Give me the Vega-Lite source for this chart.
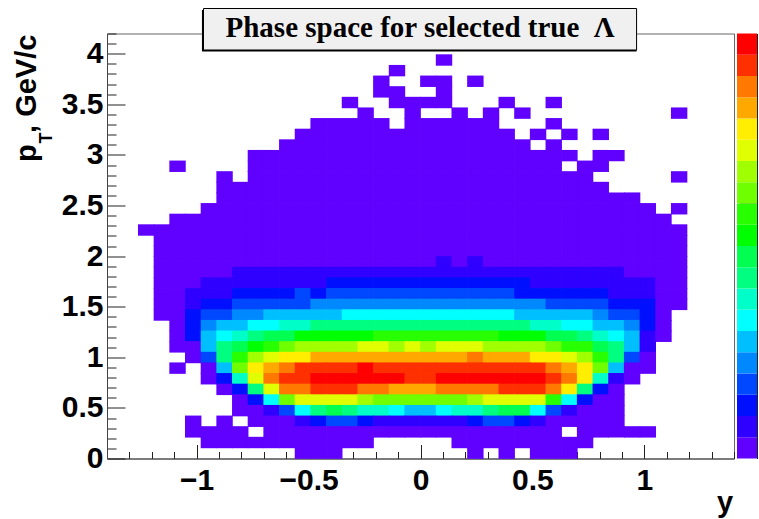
{"$schema":"https://vega.github.io/schema/vega-lite/v6.json","background":"white","padding":{"left":12,"top":7.5,"right":0,"bottom":0},"spacing":2,"hconcat":[{"width":627,"height":425,"view":{"stroke":"#666666","strokeWidth":1,"fill":null},"encoding":{"x":{"field":"y","type":"quantitative","scale":{"domain":[-1.4,1.4],"nice":false,"zero":false},"axis":{"title":null,"values":[-1.4,-1.3,-1.2,-1.1,-1,-0.9,-0.8,-0.7,-0.6,-0.5,-0.4,-0.3,-0.2,-0.1,0,0.1,0.2,0.3,0.4,0.5,0.6,0.7,0.8,0.9,1,1.1,1.2,1.3,1.4],"labelExpr":"abs(datum.value*2-round(datum.value*2))<0.01 ? format(datum.value,'.1~f') : ''","tickSize":{"condition":{"test":"abs(datum.value*2-round(datum.value*2))<0.01","value":-14},"value":-7},"tickColor":"#222222","domainColor":"#444444","labelFont":"Liberation Sans","labelFontWeight":"bold","labelFontSize":30,"labelColor":"black","labelPadding":21,"labelFlush":false,"labelOverlap":false,"grid":false}},"y":{"field":"pT","type":"quantitative","scale":{"domain":[0,4.2],"nice":false,"zero":false},"axis":{"title":null,"values":[0,0.1,0.2,0.3,0.4,0.5,0.6,0.7,0.8,0.9,1,1.1,1.2,1.3,1.4,1.5,1.6,1.7,1.8,1.9,2,2.1,2.2,2.3,2.4,2.5,2.6,2.7,2.8,2.9,3,3.1,3.2,3.3,3.4,3.5,3.6,3.7,3.8,3.9,4,4.1,4.2],"labelExpr":"abs(datum.value*2-round(datum.value*2))<0.01 ? format(datum.value,'.1~f') : ''","tickSize":{"condition":{"test":"abs(datum.value*2-round(datum.value*2))<0.01","value":-18},"value":-9},"tickColor":"#222222","domainColor":"#444444","labelFont":"Liberation Sans","labelFontWeight":"bold","labelFontSize":30,"labelColor":"black","labelPadding":22,"labelFlush":false,"labelOverlap":false,"grid":false}}},"layer":[{"data":{"values":[{"y":0.105,"pT":3.938,"n":21},{"y":-0.105,"pT":3.833,"n":21},{"y":-0.175,"pT":3.728,"n":21},{"y":0.035,"pT":3.728,"n":21},{"y":0.105,"pT":3.728,"n":21},{"y":0.245,"pT":3.728,"n":21},{"y":-0.175,"pT":3.623,"n":21},{"y":-0.105,"pT":3.623,"n":21},{"y":0.105,"pT":3.623,"n":21},{"y":-0.315,"pT":3.518,"n":21},{"y":-0.105,"pT":3.518,"n":21},{"y":-0.035,"pT":3.518,"n":21},{"y":0.035,"pT":3.518,"n":21},{"y":0.105,"pT":3.518,"n":21},{"y":0.385,"pT":3.518,"n":21},{"y":0.595,"pT":3.518,"n":21},{"y":-0.245,"pT":3.413,"n":21},{"y":-0.035,"pT":3.413,"n":21},{"y":0.175,"pT":3.413,"n":21},{"y":0.315,"pT":3.413,"n":21},{"y":0.455,"pT":3.413,"n":21},{"y":1.155,"pT":3.413,"n":21},{"y":-0.455,"pT":3.308,"n":21},{"y":-0.385,"pT":3.308,"n":21},{"y":-0.315,"pT":3.308,"n":21},{"y":-0.245,"pT":3.308,"n":21},{"y":-0.175,"pT":3.308,"n":21},{"y":-0.035,"pT":3.308,"n":21},{"y":0.035,"pT":3.308,"n":21},{"y":0.105,"pT":3.308,"n":21},{"y":0.175,"pT":3.308,"n":21},{"y":0.245,"pT":3.308,"n":21},{"y":0.315,"pT":3.308,"n":21},{"y":0.595,"pT":3.308,"n":21},{"y":-0.525,"pT":3.203,"n":21},{"y":-0.455,"pT":3.203,"n":21},{"y":-0.385,"pT":3.203,"n":21},{"y":-0.315,"pT":3.203,"n":21},{"y":-0.245,"pT":3.203,"n":21},{"y":-0.175,"pT":3.203,"n":21},{"y":-0.105,"pT":3.203,"n":21},{"y":-0.035,"pT":3.203,"n":21},{"y":0.035,"pT":3.203,"n":21},{"y":0.105,"pT":3.203,"n":21},{"y":0.175,"pT":3.203,"n":21},{"y":0.245,"pT":3.203,"n":21},{"y":0.315,"pT":3.203,"n":21},{"y":0.385,"pT":3.203,"n":21},{"y":0.525,"pT":3.203,"n":21},{"y":0.665,"pT":3.203,"n":21},{"y":0.805,"pT":3.203,"n":21},{"y":-0.595,"pT":3.098,"n":21},{"y":-0.525,"pT":3.098,"n":21},{"y":-0.455,"pT":3.098,"n":21},{"y":-0.385,"pT":3.098,"n":21},{"y":-0.315,"pT":3.098,"n":21},{"y":-0.245,"pT":3.098,"n":21},{"y":-0.175,"pT":3.098,"n":21},{"y":-0.105,"pT":3.098,"n":21},{"y":-0.035,"pT":3.098,"n":21},{"y":0.035,"pT":3.098,"n":21},{"y":0.105,"pT":3.098,"n":21},{"y":0.175,"pT":3.098,"n":21},{"y":0.245,"pT":3.098,"n":21},{"y":0.315,"pT":3.098,"n":21},{"y":0.385,"pT":3.098,"n":21},{"y":0.455,"pT":3.098,"n":21},{"y":0.595,"pT":3.098,"n":21},{"y":-0.735,"pT":2.993,"n":21},{"y":-0.665,"pT":2.993,"n":21},{"y":-0.595,"pT":2.993,"n":21},{"y":-0.525,"pT":2.993,"n":21},{"y":-0.455,"pT":2.993,"n":21},{"y":-0.385,"pT":2.993,"n":21},{"y":-0.315,"pT":2.993,"n":21},{"y":-0.245,"pT":2.993,"n":21},{"y":-0.175,"pT":2.993,"n":21},{"y":-0.105,"pT":2.993,"n":21},{"y":-0.035,"pT":2.993,"n":21},{"y":0.035,"pT":2.993,"n":21},{"y":0.105,"pT":2.993,"n":21},{"y":0.175,"pT":2.993,"n":21},{"y":0.245,"pT":2.993,"n":21},{"y":0.315,"pT":2.993,"n":21},{"y":0.385,"pT":2.993,"n":21},{"y":0.455,"pT":2.993,"n":21},{"y":0.525,"pT":2.993,"n":21},{"y":0.595,"pT":2.993,"n":21},{"y":0.665,"pT":2.993,"n":21},{"y":0.805,"pT":2.993,"n":21},{"y":0.875,"pT":2.993,"n":21},{"y":-1.085,"pT":2.888,"n":21},{"y":-0.735,"pT":2.888,"n":21},{"y":-0.665,"pT":2.888,"n":21},{"y":-0.595,"pT":2.888,"n":21},{"y":-0.525,"pT":2.888,"n":21},{"y":-0.455,"pT":2.888,"n":21},{"y":-0.385,"pT":2.888,"n":21},{"y":-0.315,"pT":2.888,"n":21},{"y":-0.245,"pT":2.888,"n":21},{"y":-0.175,"pT":2.888,"n":21},{"y":-0.105,"pT":2.888,"n":21},{"y":-0.035,"pT":2.888,"n":21},{"y":0.035,"pT":2.888,"n":21},{"y":0.105,"pT":2.888,"n":21},{"y":0.175,"pT":2.888,"n":21},{"y":0.245,"pT":2.888,"n":21},{"y":0.315,"pT":2.888,"n":21},{"y":0.385,"pT":2.888,"n":21},{"y":0.455,"pT":2.888,"n":21},{"y":0.525,"pT":2.888,"n":21},{"y":0.595,"pT":2.888,"n":21},{"y":0.735,"pT":2.888,"n":21},{"y":0.805,"pT":2.888,"n":21},{"y":-0.875,"pT":2.783,"n":21},{"y":-0.735,"pT":2.783,"n":21},{"y":-0.665,"pT":2.783,"n":21},{"y":-0.595,"pT":2.783,"n":21},{"y":-0.525,"pT":2.783,"n":21},{"y":-0.455,"pT":2.783,"n":21},{"y":-0.385,"pT":2.783,"n":21},{"y":-0.315,"pT":2.783,"n":21},{"y":-0.245,"pT":2.783,"n":21},{"y":-0.175,"pT":2.783,"n":21},{"y":-0.105,"pT":2.783,"n":21},{"y":-0.035,"pT":2.783,"n":21},{"y":0.035,"pT":2.783,"n":21},{"y":0.105,"pT":2.783,"n":21},{"y":0.175,"pT":2.783,"n":21},{"y":0.245,"pT":2.783,"n":21},{"y":0.315,"pT":2.783,"n":21},{"y":0.385,"pT":2.783,"n":21},{"y":0.455,"pT":2.783,"n":21},{"y":0.525,"pT":2.783,"n":21},{"y":0.595,"pT":2.783,"n":21},{"y":0.665,"pT":2.783,"n":21},{"y":0.735,"pT":2.783,"n":21},{"y":1.155,"pT":2.783,"n":21},{"y":-0.875,"pT":2.678,"n":21},{"y":-0.805,"pT":2.678,"n":21},{"y":-0.735,"pT":2.678,"n":21},{"y":-0.665,"pT":2.678,"n":21},{"y":-0.595,"pT":2.678,"n":21},{"y":-0.525,"pT":2.678,"n":21},{"y":-0.455,"pT":2.678,"n":21},{"y":-0.385,"pT":2.678,"n":21},{"y":-0.315,"pT":2.678,"n":21},{"y":-0.245,"pT":2.678,"n":21},{"y":-0.175,"pT":2.678,"n":21},{"y":-0.105,"pT":2.678,"n":21},{"y":-0.035,"pT":2.678,"n":21},{"y":0.035,"pT":2.678,"n":21},{"y":0.105,"pT":2.678,"n":21},{"y":0.175,"pT":2.678,"n":21},{"y":0.245,"pT":2.678,"n":21},{"y":0.315,"pT":2.678,"n":21},{"y":0.385,"pT":2.678,"n":21},{"y":0.455,"pT":2.678,"n":21},{"y":0.525,"pT":2.678,"n":21},{"y":0.595,"pT":2.678,"n":21},{"y":0.665,"pT":2.678,"n":21},{"y":0.735,"pT":2.678,"n":21},{"y":0.805,"pT":2.678,"n":21},{"y":-0.875,"pT":2.573,"n":21},{"y":-0.805,"pT":2.573,"n":21},{"y":-0.735,"pT":2.573,"n":21},{"y":-0.665,"pT":2.573,"n":21},{"y":-0.595,"pT":2.573,"n":21},{"y":-0.525,"pT":2.573,"n":21},{"y":-0.455,"pT":2.573,"n":21},{"y":-0.385,"pT":2.573,"n":21},{"y":-0.315,"pT":2.573,"n":21},{"y":-0.245,"pT":2.573,"n":21},{"y":-0.175,"pT":2.573,"n":21},{"y":-0.105,"pT":2.573,"n":21},{"y":-0.035,"pT":2.573,"n":21},{"y":0.035,"pT":2.573,"n":21},{"y":0.105,"pT":2.573,"n":21},{"y":0.175,"pT":2.573,"n":21},{"y":0.245,"pT":2.573,"n":21},{"y":0.315,"pT":2.573,"n":21},{"y":0.385,"pT":2.573,"n":21},{"y":0.455,"pT":2.573,"n":21},{"y":0.525,"pT":2.573,"n":21},{"y":0.595,"pT":2.573,"n":21},{"y":0.665,"pT":2.573,"n":21},{"y":0.735,"pT":2.573,"n":21},{"y":0.805,"pT":2.573,"n":21},{"y":0.875,"pT":2.573,"n":21},{"y":0.945,"pT":2.573,"n":21},{"y":-0.945,"pT":2.468,"n":21},{"y":-0.875,"pT":2.468,"n":21},{"y":-0.805,"pT":2.468,"n":21},{"y":-0.735,"pT":2.468,"n":21},{"y":-0.665,"pT":2.468,"n":21},{"y":-0.595,"pT":2.468,"n":21},{"y":-0.525,"pT":2.468,"n":21},{"y":-0.455,"pT":2.468,"n":21},{"y":-0.385,"pT":2.468,"n":21},{"y":-0.315,"pT":2.468,"n":21},{"y":-0.245,"pT":2.468,"n":21},{"y":-0.175,"pT":2.468,"n":21},{"y":-0.105,"pT":2.468,"n":21},{"y":-0.035,"pT":2.468,"n":21},{"y":0.035,"pT":2.468,"n":21},{"y":0.105,"pT":2.468,"n":21},{"y":0.175,"pT":2.468,"n":21},{"y":0.245,"pT":2.468,"n":21},{"y":0.315,"pT":2.468,"n":21},{"y":0.385,"pT":2.468,"n":21},{"y":0.455,"pT":2.468,"n":21},{"y":0.525,"pT":2.468,"n":21},{"y":0.595,"pT":2.468,"n":21},{"y":0.665,"pT":2.468,"n":21},{"y":0.735,"pT":2.468,"n":21},{"y":0.805,"pT":2.468,"n":21},{"y":0.875,"pT":2.468,"n":21},{"y":0.945,"pT":2.468,"n":21},{"y":1.015,"pT":2.468,"n":21},{"y":1.155,"pT":2.468,"n":21},{"y":-1.085,"pT":2.363,"n":21},{"y":-1.015,"pT":2.363,"n":21},{"y":-0.945,"pT":2.363,"n":21},{"y":-0.875,"pT":2.363,"n":21},{"y":-0.805,"pT":2.363,"n":21},{"y":-0.735,"pT":2.363,"n":21},{"y":-0.665,"pT":2.363,"n":21},{"y":-0.595,"pT":2.363,"n":21},{"y":-0.525,"pT":2.363,"n":21},{"y":-0.455,"pT":2.363,"n":21},{"y":-0.385,"pT":2.363,"n":21},{"y":-0.315,"pT":2.363,"n":21},{"y":-0.245,"pT":2.363,"n":21},{"y":-0.175,"pT":2.363,"n":21},{"y":-0.105,"pT":2.363,"n":21},{"y":-0.035,"pT":2.363,"n":21},{"y":0.035,"pT":2.363,"n":21},{"y":0.105,"pT":2.363,"n":21},{"y":0.175,"pT":2.363,"n":21},{"y":0.245,"pT":2.363,"n":21},{"y":0.315,"pT":2.363,"n":21},{"y":0.385,"pT":2.363,"n":21},{"y":0.455,"pT":2.363,"n":21},{"y":0.525,"pT":2.363,"n":21},{"y":0.595,"pT":2.363,"n":21},{"y":0.665,"pT":2.363,"n":21},{"y":0.735,"pT":2.363,"n":21},{"y":0.805,"pT":2.363,"n":21},{"y":0.875,"pT":2.363,"n":21},{"y":0.945,"pT":2.363,"n":21},{"y":1.015,"pT":2.363,"n":21},{"y":1.085,"pT":2.363,"n":21},{"y":-1.225,"pT":2.258,"n":21},{"y":-1.155,"pT":2.258,"n":21},{"y":-1.085,"pT":2.258,"n":21},{"y":-1.015,"pT":2.258,"n":21},{"y":-0.945,"pT":2.258,"n":21},{"y":-0.875,"pT":2.258,"n":21},{"y":-0.805,"pT":2.258,"n":21},{"y":-0.735,"pT":2.258,"n":21},{"y":-0.665,"pT":2.258,"n":21},{"y":-0.595,"pT":2.258,"n":21},{"y":-0.525,"pT":2.258,"n":21},{"y":-0.455,"pT":2.258,"n":21},{"y":-0.385,"pT":2.258,"n":21},{"y":-0.315,"pT":2.258,"n":21},{"y":-0.245,"pT":2.258,"n":21},{"y":-0.175,"pT":2.258,"n":21},{"y":-0.105,"pT":2.258,"n":21},{"y":-0.035,"pT":2.258,"n":21},{"y":0.035,"pT":2.258,"n":21},{"y":0.105,"pT":2.258,"n":21},{"y":0.175,"pT":2.258,"n":21},{"y":0.245,"pT":2.258,"n":21},{"y":0.315,"pT":2.258,"n":21},{"y":0.385,"pT":2.258,"n":21},{"y":0.455,"pT":2.258,"n":21},{"y":0.525,"pT":2.258,"n":21},{"y":0.595,"pT":2.258,"n":21},{"y":0.665,"pT":2.258,"n":21},{"y":0.735,"pT":2.258,"n":21},{"y":0.805,"pT":2.258,"n":21},{"y":0.875,"pT":2.258,"n":21},{"y":0.945,"pT":2.258,"n":21},{"y":1.015,"pT":2.258,"n":21},{"y":1.085,"pT":2.258,"n":21},{"y":1.155,"pT":2.258,"n":21},{"y":-1.155,"pT":2.153,"n":21},{"y":-1.085,"pT":2.153,"n":21},{"y":-1.015,"pT":2.153,"n":21},{"y":-0.945,"pT":2.153,"n":21},{"y":-0.875,"pT":2.153,"n":21},{"y":-0.805,"pT":2.153,"n":21},{"y":-0.735,"pT":2.153,"n":21},{"y":-0.665,"pT":2.153,"n":21},{"y":-0.595,"pT":2.153,"n":21},{"y":-0.525,"pT":2.153,"n":21},{"y":-0.455,"pT":2.153,"n":21},{"y":-0.385,"pT":2.153,"n":21},{"y":-0.315,"pT":2.153,"n":21},{"y":-0.245,"pT":2.153,"n":21},{"y":-0.175,"pT":2.153,"n":21},{"y":-0.105,"pT":2.153,"n":21},{"y":-0.035,"pT":2.153,"n":21},{"y":0.035,"pT":2.153,"n":21},{"y":0.105,"pT":2.153,"n":21},{"y":0.175,"pT":2.153,"n":21},{"y":0.245,"pT":2.153,"n":21},{"y":0.315,"pT":2.153,"n":21},{"y":0.385,"pT":2.153,"n":21},{"y":0.455,"pT":2.153,"n":21},{"y":0.525,"pT":2.153,"n":21},{"y":0.595,"pT":2.153,"n":21},{"y":0.665,"pT":2.153,"n":21},{"y":0.735,"pT":2.153,"n":21},{"y":0.805,"pT":2.153,"n":21},{"y":0.875,"pT":2.153,"n":21},{"y":0.945,"pT":2.153,"n":21},{"y":1.015,"pT":2.153,"n":21},{"y":1.085,"pT":2.153,"n":21},{"y":1.155,"pT":2.153,"n":21},{"y":-1.155,"pT":2.048,"n":21},{"y":-1.085,"pT":2.048,"n":21},{"y":-1.015,"pT":2.048,"n":21},{"y":-0.945,"pT":2.048,"n":21},{"y":-0.875,"pT":2.048,"n":21},{"y":-0.805,"pT":2.048,"n":21},{"y":-0.735,"pT":2.048,"n":21},{"y":-0.665,"pT":2.048,"n":21},{"y":-0.595,"pT":2.048,"n":21},{"y":-0.525,"pT":2.048,"n":21},{"y":-0.455,"pT":2.048,"n":21},{"y":-0.385,"pT":2.048,"n":21},{"y":-0.315,"pT":2.048,"n":21},{"y":-0.245,"pT":2.048,"n":21},{"y":-0.175,"pT":2.048,"n":21},{"y":-0.105,"pT":2.048,"n":21},{"y":-0.035,"pT":2.048,"n":21},{"y":0.035,"pT":2.048,"n":21},{"y":0.105,"pT":2.048,"n":21},{"y":0.175,"pT":2.048,"n":21},{"y":0.245,"pT":2.048,"n":21},{"y":0.315,"pT":2.048,"n":21},{"y":0.385,"pT":2.048,"n":21},{"y":0.455,"pT":2.048,"n":21},{"y":0.525,"pT":2.048,"n":21},{"y":0.595,"pT":2.048,"n":21},{"y":0.665,"pT":2.048,"n":21},{"y":0.735,"pT":2.048,"n":21},{"y":0.805,"pT":2.048,"n":21},{"y":0.875,"pT":2.048,"n":21},{"y":0.945,"pT":2.048,"n":21},{"y":1.015,"pT":2.048,"n":21},{"y":1.085,"pT":2.048,"n":21},{"y":1.155,"pT":2.048,"n":21},{"y":-1.155,"pT":1.943,"n":21},{"y":-1.085,"pT":1.943,"n":21},{"y":-1.015,"pT":1.943,"n":21},{"y":-0.945,"pT":1.943,"n":21},{"y":-0.875,"pT":1.943,"n":21},{"y":-0.805,"pT":1.943,"n":21},{"y":-0.735,"pT":1.943,"n":21},{"y":-0.665,"pT":1.943,"n":21},{"y":-0.595,"pT":1.943,"n":21},{"y":-0.525,"pT":1.943,"n":21},{"y":-0.455,"pT":1.943,"n":21},{"y":-0.385,"pT":1.943,"n":21},{"y":-0.315,"pT":1.943,"n":21},{"y":-0.245,"pT":1.943,"n":21},{"y":-0.175,"pT":1.943,"n":21},{"y":-0.105,"pT":1.943,"n":21},{"y":-0.035,"pT":1.943,"n":21},{"y":0.035,"pT":1.943,"n":21},{"y":0.105,"pT":1.943,"n":62},{"y":0.175,"pT":1.943,"n":21},{"y":0.245,"pT":1.943,"n":62},{"y":0.315,"pT":1.943,"n":21},{"y":0.385,"pT":1.943,"n":21},{"y":0.455,"pT":1.943,"n":21},{"y":0.525,"pT":1.943,"n":21},{"y":0.595,"pT":1.943,"n":21},{"y":0.665,"pT":1.943,"n":21},{"y":0.735,"pT":1.943,"n":21},{"y":0.805,"pT":1.943,"n":21},{"y":0.875,"pT":1.943,"n":21},{"y":0.945,"pT":1.943,"n":21},{"y":1.015,"pT":1.943,"n":21},{"y":1.085,"pT":1.943,"n":21},{"y":1.155,"pT":1.943,"n":21},{"y":-1.155,"pT":1.838,"n":21},{"y":-1.085,"pT":1.838,"n":21},{"y":-1.015,"pT":1.838,"n":21},{"y":-0.945,"pT":1.838,"n":21},{"y":-0.875,"pT":1.838,"n":21},{"y":-0.805,"pT":1.838,"n":62},{"y":-0.735,"pT":1.838,"n":62},{"y":-0.665,"pT":1.838,"n":62},{"y":-0.595,"pT":1.838,"n":62},{"y":-0.525,"pT":1.838,"n":62},{"y":-0.455,"pT":1.838,"n":62},{"y":-0.385,"pT":1.838,"n":62},{"y":-0.315,"pT":1.838,"n":62},{"y":-0.245,"pT":1.838,"n":62},{"y":-0.175,"pT":1.838,"n":62},{"y":-0.105,"pT":1.838,"n":62},{"y":-0.035,"pT":1.838,"n":62},{"y":0.035,"pT":1.838,"n":62},{"y":0.105,"pT":1.838,"n":62},{"y":0.175,"pT":1.838,"n":62},{"y":0.245,"pT":1.838,"n":62},{"y":0.315,"pT":1.838,"n":62},{"y":0.385,"pT":1.838,"n":62},{"y":0.455,"pT":1.838,"n":62},{"y":0.525,"pT":1.838,"n":62},{"y":0.595,"pT":1.838,"n":62},{"y":0.665,"pT":1.838,"n":62},{"y":0.735,"pT":1.838,"n":62},{"y":0.805,"pT":1.838,"n":62},{"y":0.875,"pT":1.838,"n":62},{"y":0.945,"pT":1.838,"n":21},{"y":1.015,"pT":1.838,"n":21},{"y":1.085,"pT":1.838,"n":21},{"y":1.155,"pT":1.838,"n":21},{"y":-1.155,"pT":1.733,"n":21},{"y":-1.085,"pT":1.733,"n":21},{"y":-1.015,"pT":1.733,"n":21},{"y":-0.945,"pT":1.733,"n":62},{"y":-0.875,"pT":1.733,"n":62},{"y":-0.805,"pT":1.733,"n":62},{"y":-0.735,"pT":1.733,"n":62},{"y":-0.665,"pT":1.733,"n":62},{"y":-0.595,"pT":1.733,"n":62},{"y":-0.525,"pT":1.733,"n":62},{"y":-0.455,"pT":1.733,"n":62},{"y":-0.385,"pT":1.733,"n":104},{"y":-0.315,"pT":1.733,"n":104},{"y":-0.245,"pT":1.733,"n":104},{"y":-0.175,"pT":1.733,"n":104},{"y":-0.105,"pT":1.733,"n":104},{"y":-0.035,"pT":1.733,"n":104},{"y":0.035,"pT":1.733,"n":104},{"y":0.105,"pT":1.733,"n":104},{"y":0.175,"pT":1.733,"n":104},{"y":0.245,"pT":1.733,"n":104},{"y":0.315,"pT":1.733,"n":104},{"y":0.385,"pT":1.733,"n":104},{"y":0.455,"pT":1.733,"n":104},{"y":0.525,"pT":1.733,"n":62},{"y":0.595,"pT":1.733,"n":62},{"y":0.665,"pT":1.733,"n":62},{"y":0.735,"pT":1.733,"n":62},{"y":0.805,"pT":1.733,"n":62},{"y":0.875,"pT":1.733,"n":62},{"y":0.945,"pT":1.733,"n":62},{"y":1.015,"pT":1.733,"n":62},{"y":1.085,"pT":1.733,"n":21},{"y":1.155,"pT":1.733,"n":21},{"y":-1.155,"pT":1.628,"n":21},{"y":-1.085,"pT":1.628,"n":21},{"y":-1.015,"pT":1.628,"n":62},{"y":-0.945,"pT":1.628,"n":62},{"y":-0.875,"pT":1.628,"n":62},{"y":-0.805,"pT":1.628,"n":104},{"y":-0.735,"pT":1.628,"n":104},{"y":-0.665,"pT":1.628,"n":104},{"y":-0.595,"pT":1.628,"n":104},{"y":-0.525,"pT":1.628,"n":145},{"y":-0.455,"pT":1.628,"n":104},{"y":-0.385,"pT":1.628,"n":145},{"y":-0.315,"pT":1.628,"n":145},{"y":-0.245,"pT":1.628,"n":145},{"y":-0.175,"pT":1.628,"n":145},{"y":-0.105,"pT":1.628,"n":145},{"y":-0.035,"pT":1.628,"n":145},{"y":0.035,"pT":1.628,"n":145},{"y":0.105,"pT":1.628,"n":145},{"y":0.175,"pT":1.628,"n":145},{"y":0.245,"pT":1.628,"n":145},{"y":0.315,"pT":1.628,"n":145},{"y":0.385,"pT":1.628,"n":145},{"y":0.455,"pT":1.628,"n":104},{"y":0.525,"pT":1.628,"n":104},{"y":0.595,"pT":1.628,"n":104},{"y":0.665,"pT":1.628,"n":104},{"y":0.735,"pT":1.628,"n":104},{"y":0.805,"pT":1.628,"n":104},{"y":0.875,"pT":1.628,"n":62},{"y":0.945,"pT":1.628,"n":62},{"y":1.015,"pT":1.628,"n":62},{"y":1.085,"pT":1.628,"n":21},{"y":1.155,"pT":1.628,"n":21},{"y":-1.155,"pT":1.523,"n":21},{"y":-1.085,"pT":1.523,"n":21},{"y":-1.015,"pT":1.523,"n":62},{"y":-0.945,"pT":1.523,"n":104},{"y":-0.875,"pT":1.523,"n":104},{"y":-0.805,"pT":1.523,"n":145},{"y":-0.735,"pT":1.523,"n":145},{"y":-0.665,"pT":1.523,"n":145},{"y":-0.595,"pT":1.523,"n":145},{"y":-0.525,"pT":1.523,"n":145},{"y":-0.455,"pT":1.523,"n":187},{"y":-0.385,"pT":1.523,"n":187},{"y":-0.315,"pT":1.523,"n":187},{"y":-0.245,"pT":1.523,"n":187},{"y":-0.175,"pT":1.523,"n":187},{"y":-0.105,"pT":1.523,"n":187},{"y":-0.035,"pT":1.523,"n":187},{"y":0.035,"pT":1.523,"n":187},{"y":0.105,"pT":1.523,"n":187},{"y":0.175,"pT":1.523,"n":187},{"y":0.245,"pT":1.523,"n":187},{"y":0.315,"pT":1.523,"n":187},{"y":0.385,"pT":1.523,"n":187},{"y":0.455,"pT":1.523,"n":187},{"y":0.525,"pT":1.523,"n":187},{"y":0.595,"pT":1.523,"n":145},{"y":0.665,"pT":1.523,"n":145},{"y":0.735,"pT":1.523,"n":145},{"y":0.805,"pT":1.523,"n":145},{"y":0.875,"pT":1.523,"n":104},{"y":0.945,"pT":1.523,"n":104},{"y":1.015,"pT":1.523,"n":104},{"y":1.085,"pT":1.523,"n":21},{"y":1.155,"pT":1.523,"n":21},{"y":-1.155,"pT":1.418,"n":21},{"y":-1.085,"pT":1.418,"n":21},{"y":-1.015,"pT":1.418,"n":104},{"y":-0.945,"pT":1.418,"n":145},{"y":-0.875,"pT":1.418,"n":145},{"y":-0.805,"pT":1.418,"n":187},{"y":-0.735,"pT":1.418,"n":187},{"y":-0.665,"pT":1.418,"n":228},{"y":-0.595,"pT":1.418,"n":228},{"y":-0.525,"pT":1.418,"n":228},{"y":-0.455,"pT":1.418,"n":228},{"y":-0.385,"pT":1.418,"n":228},{"y":-0.315,"pT":1.418,"n":270},{"y":-0.245,"pT":1.418,"n":270},{"y":-0.175,"pT":1.418,"n":270},{"y":-0.105,"pT":1.418,"n":270},{"y":-0.035,"pT":1.418,"n":270},{"y":0.035,"pT":1.418,"n":270},{"y":0.105,"pT":1.418,"n":270},{"y":0.175,"pT":1.418,"n":270},{"y":0.245,"pT":1.418,"n":270},{"y":0.315,"pT":1.418,"n":270},{"y":0.385,"pT":1.418,"n":270},{"y":0.455,"pT":1.418,"n":228},{"y":0.525,"pT":1.418,"n":228},{"y":0.595,"pT":1.418,"n":228},{"y":0.665,"pT":1.418,"n":228},{"y":0.735,"pT":1.418,"n":228},{"y":0.805,"pT":1.418,"n":187},{"y":0.875,"pT":1.418,"n":145},{"y":0.945,"pT":1.418,"n":145},{"y":1.015,"pT":1.418,"n":104},{"y":1.085,"pT":1.418,"n":21},{"y":-1.085,"pT":1.313,"n":21},{"y":-1.015,"pT":1.313,"n":104},{"y":-0.945,"pT":1.313,"n":187},{"y":-0.875,"pT":1.313,"n":228},{"y":-0.805,"pT":1.313,"n":228},{"y":-0.735,"pT":1.313,"n":270},{"y":-0.665,"pT":1.313,"n":270},{"y":-0.595,"pT":1.313,"n":311},{"y":-0.525,"pT":1.313,"n":311},{"y":-0.455,"pT":1.313,"n":353},{"y":-0.385,"pT":1.313,"n":353},{"y":-0.315,"pT":1.313,"n":353},{"y":-0.245,"pT":1.313,"n":353},{"y":-0.175,"pT":1.313,"n":353},{"y":-0.105,"pT":1.313,"n":353},{"y":-0.035,"pT":1.313,"n":353},{"y":0.035,"pT":1.313,"n":353},{"y":0.105,"pT":1.313,"n":353},{"y":0.175,"pT":1.313,"n":353},{"y":0.245,"pT":1.313,"n":353},{"y":0.315,"pT":1.313,"n":353},{"y":0.385,"pT":1.313,"n":353},{"y":0.455,"pT":1.313,"n":353},{"y":0.525,"pT":1.313,"n":311},{"y":0.595,"pT":1.313,"n":311},{"y":0.665,"pT":1.313,"n":270},{"y":0.735,"pT":1.313,"n":270},{"y":0.805,"pT":1.313,"n":228},{"y":0.875,"pT":1.313,"n":228},{"y":0.945,"pT":1.313,"n":187},{"y":1.015,"pT":1.313,"n":104},{"y":1.085,"pT":1.313,"n":21},{"y":-1.085,"pT":1.208,"n":21},{"y":-1.015,"pT":1.208,"n":104},{"y":-0.945,"pT":1.208,"n":228},{"y":-0.875,"pT":1.208,"n":270},{"y":-0.805,"pT":1.208,"n":311},{"y":-0.735,"pT":1.208,"n":353},{"y":-0.665,"pT":1.208,"n":394},{"y":-0.595,"pT":1.208,"n":394},{"y":-0.525,"pT":1.208,"n":436},{"y":-0.455,"pT":1.208,"n":436},{"y":-0.385,"pT":1.208,"n":436},{"y":-0.315,"pT":1.208,"n":436},{"y":-0.245,"pT":1.208,"n":436},{"y":-0.175,"pT":1.208,"n":477},{"y":-0.105,"pT":1.208,"n":477},{"y":-0.035,"pT":1.208,"n":477},{"y":0.035,"pT":1.208,"n":477},{"y":0.105,"pT":1.208,"n":477},{"y":0.175,"pT":1.208,"n":477},{"y":0.245,"pT":1.208,"n":477},{"y":0.315,"pT":1.208,"n":477},{"y":0.385,"pT":1.208,"n":436},{"y":0.455,"pT":1.208,"n":436},{"y":0.525,"pT":1.208,"n":436},{"y":0.595,"pT":1.208,"n":394},{"y":0.665,"pT":1.208,"n":394},{"y":0.735,"pT":1.208,"n":353},{"y":0.805,"pT":1.208,"n":311},{"y":0.875,"pT":1.208,"n":270},{"y":0.945,"pT":1.208,"n":228},{"y":1.015,"pT":1.208,"n":62},{"y":1.085,"pT":1.208,"n":21},{"y":-1.085,"pT":1.103,"n":21},{"y":-1.015,"pT":1.103,"n":21},{"y":-0.945,"pT":1.103,"n":228},{"y":-0.875,"pT":1.103,"n":353},{"y":-0.805,"pT":1.103,"n":394},{"y":-0.735,"pT":1.103,"n":436},{"y":-0.665,"pT":1.103,"n":477},{"y":-0.595,"pT":1.103,"n":519},{"y":-0.525,"pT":1.103,"n":560},{"y":-0.455,"pT":1.103,"n":560},{"y":-0.385,"pT":1.103,"n":560},{"y":-0.315,"pT":1.103,"n":560},{"y":-0.245,"pT":1.103,"n":602},{"y":-0.175,"pT":1.103,"n":602},{"y":-0.105,"pT":1.103,"n":560},{"y":-0.035,"pT":1.103,"n":602},{"y":0.035,"pT":1.103,"n":560},{"y":0.105,"pT":1.103,"n":602},{"y":0.175,"pT":1.103,"n":602},{"y":0.245,"pT":1.103,"n":602},{"y":0.315,"pT":1.103,"n":560},{"y":0.385,"pT":1.103,"n":560},{"y":0.455,"pT":1.103,"n":560},{"y":0.525,"pT":1.103,"n":560},{"y":0.595,"pT":1.103,"n":519},{"y":0.665,"pT":1.103,"n":477},{"y":0.735,"pT":1.103,"n":477},{"y":0.805,"pT":1.103,"n":394},{"y":0.875,"pT":1.103,"n":353},{"y":0.945,"pT":1.103,"n":228},{"y":1.015,"pT":1.103,"n":62},{"y":-1.015,"pT":0.998,"n":21},{"y":-0.945,"pT":0.998,"n":145},{"y":-0.875,"pT":0.998,"n":353},{"y":-0.805,"pT":0.998,"n":477},{"y":-0.735,"pT":0.998,"n":560},{"y":-0.665,"pT":0.998,"n":602},{"y":-0.595,"pT":0.998,"n":643},{"y":-0.525,"pT":0.998,"n":643},{"y":-0.455,"pT":0.998,"n":685},{"y":-0.385,"pT":0.998,"n":685},{"y":-0.315,"pT":0.998,"n":685},{"y":-0.245,"pT":0.998,"n":685},{"y":-0.175,"pT":0.998,"n":685},{"y":-0.105,"pT":0.998,"n":685},{"y":-0.035,"pT":0.998,"n":685},{"y":0.035,"pT":0.998,"n":685},{"y":0.105,"pT":0.998,"n":685},{"y":0.175,"pT":0.998,"n":685},{"y":0.245,"pT":0.998,"n":726},{"y":0.315,"pT":0.998,"n":685},{"y":0.385,"pT":0.998,"n":685},{"y":0.455,"pT":0.998,"n":685},{"y":0.525,"pT":0.998,"n":643},{"y":0.595,"pT":0.998,"n":643},{"y":0.665,"pT":0.998,"n":602},{"y":0.735,"pT":0.998,"n":560},{"y":0.805,"pT":0.998,"n":477},{"y":0.875,"pT":0.998,"n":353},{"y":0.945,"pT":0.998,"n":145},{"y":1.015,"pT":0.998,"n":21},{"y":-1.085,"pT":0.893,"n":21},{"y":-0.945,"pT":0.893,"n":21},{"y":-0.875,"pT":0.893,"n":228},{"y":-0.805,"pT":0.893,"n":519},{"y":-0.735,"pT":0.893,"n":643},{"y":-0.665,"pT":0.893,"n":685},{"y":-0.595,"pT":0.893,"n":726},{"y":-0.525,"pT":0.893,"n":768},{"y":-0.455,"pT":0.893,"n":768},{"y":-0.385,"pT":0.893,"n":768},{"y":-0.315,"pT":0.893,"n":768},{"y":-0.245,"pT":0.893,"n":809},{"y":-0.175,"pT":0.893,"n":768},{"y":-0.105,"pT":0.893,"n":768},{"y":-0.035,"pT":0.893,"n":768},{"y":0.035,"pT":0.893,"n":768},{"y":0.105,"pT":0.893,"n":768},{"y":0.175,"pT":0.893,"n":768},{"y":0.245,"pT":0.893,"n":768},{"y":0.315,"pT":0.893,"n":768},{"y":0.385,"pT":0.893,"n":768},{"y":0.455,"pT":0.893,"n":768},{"y":0.525,"pT":0.893,"n":768},{"y":0.595,"pT":0.893,"n":726},{"y":0.665,"pT":0.893,"n":685},{"y":0.735,"pT":0.893,"n":643},{"y":0.805,"pT":0.893,"n":519},{"y":0.875,"pT":0.893,"n":228},{"y":0.945,"pT":0.893,"n":21},{"y":1.015,"pT":0.893,"n":21},{"y":-0.945,"pT":0.788,"n":21},{"y":-0.875,"pT":0.788,"n":104},{"y":-0.805,"pT":0.788,"n":311},{"y":-0.735,"pT":0.788,"n":602},{"y":-0.665,"pT":0.788,"n":726},{"y":-0.595,"pT":0.788,"n":768},{"y":-0.525,"pT":0.788,"n":768},{"y":-0.455,"pT":0.788,"n":809},{"y":-0.385,"pT":0.788,"n":809},{"y":-0.315,"pT":0.788,"n":809},{"y":-0.245,"pT":0.788,"n":809},{"y":-0.175,"pT":0.788,"n":809},{"y":-0.105,"pT":0.788,"n":809},{"y":-0.035,"pT":0.788,"n":768},{"y":0.035,"pT":0.788,"n":768},{"y":0.105,"pT":0.788,"n":809},{"y":0.175,"pT":0.788,"n":809},{"y":0.245,"pT":0.788,"n":809},{"y":0.315,"pT":0.788,"n":809},{"y":0.385,"pT":0.788,"n":809},{"y":0.455,"pT":0.788,"n":809},{"y":0.525,"pT":0.788,"n":809},{"y":0.595,"pT":0.788,"n":768},{"y":0.665,"pT":0.788,"n":726},{"y":0.735,"pT":0.788,"n":643},{"y":0.805,"pT":0.788,"n":311},{"y":0.875,"pT":0.788,"n":62},{"y":0.945,"pT":0.788,"n":21},{"y":-0.875,"pT":0.683,"n":21},{"y":-0.805,"pT":0.683,"n":104},{"y":-0.735,"pT":0.683,"n":353},{"y":-0.665,"pT":0.683,"n":602},{"y":-0.595,"pT":0.683,"n":726},{"y":-0.525,"pT":0.683,"n":726},{"y":-0.455,"pT":0.683,"n":768},{"y":-0.385,"pT":0.683,"n":768},{"y":-0.315,"pT":0.683,"n":768},{"y":-0.245,"pT":0.683,"n":726},{"y":-0.175,"pT":0.683,"n":726},{"y":-0.105,"pT":0.683,"n":685},{"y":-0.035,"pT":0.683,"n":685},{"y":0.035,"pT":0.683,"n":685},{"y":0.105,"pT":0.683,"n":726},{"y":0.175,"pT":0.683,"n":726},{"y":0.245,"pT":0.683,"n":726},{"y":0.315,"pT":0.683,"n":726},{"y":0.385,"pT":0.683,"n":768},{"y":0.455,"pT":0.683,"n":768},{"y":0.525,"pT":0.683,"n":768},{"y":0.595,"pT":0.683,"n":726},{"y":0.665,"pT":0.683,"n":643},{"y":0.735,"pT":0.683,"n":353},{"y":0.805,"pT":0.683,"n":104},{"y":0.875,"pT":0.683,"n":21},{"y":-0.805,"pT":0.578,"n":21},{"y":-0.735,"pT":0.578,"n":104},{"y":-0.665,"pT":0.578,"n":270},{"y":-0.595,"pT":0.578,"n":519},{"y":-0.525,"pT":0.578,"n":602},{"y":-0.455,"pT":0.578,"n":602},{"y":-0.385,"pT":0.578,"n":602},{"y":-0.315,"pT":0.578,"n":602},{"y":-0.245,"pT":0.578,"n":560},{"y":-0.175,"pT":0.578,"n":519},{"y":-0.105,"pT":0.578,"n":519},{"y":-0.035,"pT":0.578,"n":519},{"y":0.035,"pT":0.578,"n":519},{"y":0.105,"pT":0.578,"n":519},{"y":0.175,"pT":0.578,"n":519},{"y":0.245,"pT":0.578,"n":560},{"y":0.315,"pT":0.578,"n":602},{"y":0.385,"pT":0.578,"n":602},{"y":0.455,"pT":0.578,"n":602},{"y":0.525,"pT":0.578,"n":602},{"y":0.595,"pT":0.578,"n":477},{"y":0.665,"pT":0.578,"n":270},{"y":0.735,"pT":0.578,"n":104},{"y":0.805,"pT":0.578,"n":21},{"y":0.875,"pT":0.578,"n":21},{"y":-0.805,"pT":0.473,"n":21},{"y":-0.735,"pT":0.473,"n":21},{"y":-0.665,"pT":0.473,"n":62},{"y":-0.595,"pT":0.473,"n":145},{"y":-0.525,"pT":0.473,"n":270},{"y":-0.455,"pT":0.473,"n":353},{"y":-0.385,"pT":0.473,"n":394},{"y":-0.315,"pT":0.473,"n":353},{"y":-0.245,"pT":0.473,"n":311},{"y":-0.175,"pT":0.473,"n":311},{"y":-0.105,"pT":0.473,"n":270},{"y":-0.035,"pT":0.473,"n":228},{"y":0.035,"pT":0.473,"n":228},{"y":0.105,"pT":0.473,"n":270},{"y":0.175,"pT":0.473,"n":311},{"y":0.245,"pT":0.473,"n":311},{"y":0.315,"pT":0.473,"n":353},{"y":0.385,"pT":0.473,"n":394},{"y":0.455,"pT":0.473,"n":394},{"y":0.525,"pT":0.473,"n":270},{"y":0.595,"pT":0.473,"n":145},{"y":0.665,"pT":0.473,"n":62},{"y":0.735,"pT":0.473,"n":21},{"y":0.805,"pT":0.473,"n":21},{"y":0.875,"pT":0.473,"n":21},{"y":-1.015,"pT":0.368,"n":21},{"y":-0.875,"pT":0.368,"n":21},{"y":-0.735,"pT":0.368,"n":21},{"y":-0.665,"pT":0.368,"n":21},{"y":-0.595,"pT":0.368,"n":21},{"y":-0.525,"pT":0.368,"n":62},{"y":-0.455,"pT":0.368,"n":104},{"y":-0.385,"pT":0.368,"n":145},{"y":-0.315,"pT":0.368,"n":145},{"y":-0.245,"pT":0.368,"n":104},{"y":-0.175,"pT":0.368,"n":62},{"y":-0.105,"pT":0.368,"n":62},{"y":-0.035,"pT":0.368,"n":62},{"y":0.035,"pT":0.368,"n":62},{"y":0.105,"pT":0.368,"n":62},{"y":0.175,"pT":0.368,"n":62},{"y":0.245,"pT":0.368,"n":104},{"y":0.315,"pT":0.368,"n":145},{"y":0.385,"pT":0.368,"n":145},{"y":0.455,"pT":0.368,"n":104},{"y":0.525,"pT":0.368,"n":62},{"y":0.595,"pT":0.368,"n":21},{"y":0.665,"pT":0.368,"n":21},{"y":0.735,"pT":0.368,"n":21},{"y":0.805,"pT":0.368,"n":21},{"y":0.875,"pT":0.368,"n":21},{"y":-1.015,"pT":0.263,"n":21},{"y":-0.945,"pT":0.263,"n":21},{"y":-0.875,"pT":0.263,"n":21},{"y":-0.805,"pT":0.263,"n":21},{"y":-0.665,"pT":0.263,"n":21},{"y":-0.595,"pT":0.263,"n":21},{"y":-0.525,"pT":0.263,"n":21},{"y":-0.455,"pT":0.263,"n":21},{"y":-0.385,"pT":0.263,"n":21},{"y":-0.315,"pT":0.263,"n":21},{"y":-0.245,"pT":0.263,"n":21},{"y":-0.175,"pT":0.263,"n":21},{"y":-0.105,"pT":0.263,"n":21},{"y":-0.035,"pT":0.263,"n":21},{"y":0.035,"pT":0.263,"n":21},{"y":0.105,"pT":0.263,"n":21},{"y":0.175,"pT":0.263,"n":21},{"y":0.245,"pT":0.263,"n":21},{"y":0.315,"pT":0.263,"n":21},{"y":0.385,"pT":0.263,"n":21},{"y":0.455,"pT":0.263,"n":21},{"y":0.525,"pT":0.263,"n":21},{"y":0.595,"pT":0.263,"n":21},{"y":0.735,"pT":0.263,"n":21},{"y":0.805,"pT":0.263,"n":21},{"y":0.875,"pT":0.263,"n":21},{"y":0.945,"pT":0.263,"n":21},{"y":1.015,"pT":0.263,"n":21},{"y":-0.945,"pT":0.158,"n":21},{"y":-0.875,"pT":0.158,"n":21},{"y":-0.805,"pT":0.158,"n":21},{"y":-0.735,"pT":0.158,"n":21},{"y":-0.665,"pT":0.158,"n":21},{"y":-0.595,"pT":0.158,"n":21},{"y":-0.525,"pT":0.158,"n":21},{"y":-0.455,"pT":0.158,"n":21},{"y":-0.385,"pT":0.158,"n":21},{"y":-0.315,"pT":0.158,"n":21},{"y":-0.245,"pT":0.158,"n":21},{"y":0.175,"pT":0.158,"n":21},{"y":0.245,"pT":0.158,"n":21},{"y":0.315,"pT":0.158,"n":21},{"y":0.385,"pT":0.158,"n":21},{"y":0.455,"pT":0.158,"n":21},{"y":0.525,"pT":0.158,"n":21},{"y":0.595,"pT":0.158,"n":21},{"y":0.665,"pT":0.158,"n":21},{"y":0.735,"pT":0.158,"n":21},{"y":-0.525,"pT":0.053,"n":21},{"y":-0.455,"pT":0.053,"n":21},{"y":-0.385,"pT":0.053,"n":21},{"y":0.245,"pT":0.053,"n":21},{"y":0.385,"pT":0.053,"n":21},{"y":0.525,"pT":0.053,"n":21},{"y":0.595,"pT":0.053,"n":21},{"y":0.665,"pT":0.053,"n":21}]},"mark":{"type":"rect","width":16.4,"height":11.4},"encoding":{"color":{"field":"n","type":"quantitative","legend":null,"scale":{"type":"quantize","domain":[0,830],"nice":false,"zero":false,"range":["#6000ff","#2f00ff","#0010ff","#0048ff","#0088ff","#00bfff","#00ffff","#00ffc8","#00ff80","#00ff50","#00ff00","#28ff00","#70ff00","#a0ff00","#e0ff00","#ffee00","#ffa800","#ff7800","#ff3000","#ff0000"]}}}},{"data":{"values":[{"y":-0.976,"pT":4.432,"y2":0.965,"pT2":4.022}]},"mark":{"type":"rect","fill":"black"},"encoding":{"x2":{"field":"y2"},"y2":{"field":"pT2"}}},{"data":{"values":[{"y":-0.969,"pT":4.447,"y2":0.965,"pT2":4.037}]},"mark":{"type":"rect","fill":"#f0f0f0","stroke":"black","strokeWidth":1},"encoding":{"x2":{"field":"y2"},"y2":{"field":"pT2"}}},{"data":{"values":[{"y":-0.002,"pT":4.168,"label":"Phase space for selected true\u00a0\u00a0Λ"}]},"mark":{"type":"text","font":"Liberation Serif","fontWeight":"bold","fontSize":29,"align":"center","baseline":"alphabetic","color":"black"},"encoding":{"text":{"field":"label"}}},{"data":{"values":[{"y":-1.717,"pT":2.93,"label":"p"},{"y":-1.717,"pT":3.217,"label":", GeV/c"}]},"mark":{"type":"text","font":"Liberation Sans","fontWeight":"bold","fontSize":29,"align":"left","baseline":"alphabetic","angle":270,"color":"black"},"encoding":{"text":{"field":"label"}}},{"data":{"values":[{"y":-1.645,"pT":3.113,"label":"T"}]},"mark":{"type":"text","font":"Liberation Sans","fontWeight":"bold","fontSize":18,"align":"left","baseline":"alphabetic","angle":270,"color":"black"},"encoding":{"text":{"field":"label"}}},{"data":{"values":[{"y":1.396,"pT":-0.529,"label":"y"}]},"mark":{"type":"text","font":"Liberation Sans","fontWeight":"bold","fontSize":29,"align":"right","baseline":"alphabetic","color":"black"},"encoding":{"text":{"field":"label"}}}]},{"width":20,"height":425,"view":{"stroke":null,"fill":null},"data":{"values":[{"z0":0,"z1":41.5,"n":21},{"z0":41.5,"z1":83,"n":62},{"z0":83,"z1":124.5,"n":104},{"z0":124.5,"z1":166,"n":145},{"z0":166,"z1":207.5,"n":187},{"z0":207.5,"z1":249,"n":228},{"z0":249,"z1":290.5,"n":270},{"z0":290.5,"z1":332,"n":311},{"z0":332,"z1":373.5,"n":353},{"z0":373.5,"z1":415,"n":394},{"z0":415,"z1":456.5,"n":436},{"z0":456.5,"z1":498,"n":477},{"z0":498,"z1":539.5,"n":519},{"z0":539.5,"z1":581,"n":560},{"z0":581,"z1":622.5,"n":602},{"z0":622.5,"z1":664,"n":643},{"z0":664,"z1":705.5,"n":685},{"z0":705.5,"z1":747,"n":726},{"z0":747,"z1":788.5,"n":768},{"z0":788.5,"z1":830,"n":809}]},"mark":{"type":"rect"},"encoding":{"y":{"field":"z0","type":"quantitative","scale":{"domain":[0,830],"nice":false,"zero":false},"axis":{"orient":"right","title":null,"values":[100,200,300,400,500,600,700,800],"labels":false,"tickSize":-18,"tickColor":"#222222","domain":true,"domainColor":"#222222","grid":false}},"y2":{"field":"z1"},"color":{"field":"n","type":"quantitative","legend":null,"scale":{"type":"quantize","domain":[0,830],"nice":false,"zero":false,"range":["#6000ff","#2f00ff","#0010ff","#0048ff","#0088ff","#00bfff","#00ffff","#00ffc8","#00ff80","#00ff50","#00ff00","#28ff00","#70ff00","#a0ff00","#e0ff00","#ffee00","#ffa800","#ff7800","#ff3000","#ff0000"]}}}}]}
